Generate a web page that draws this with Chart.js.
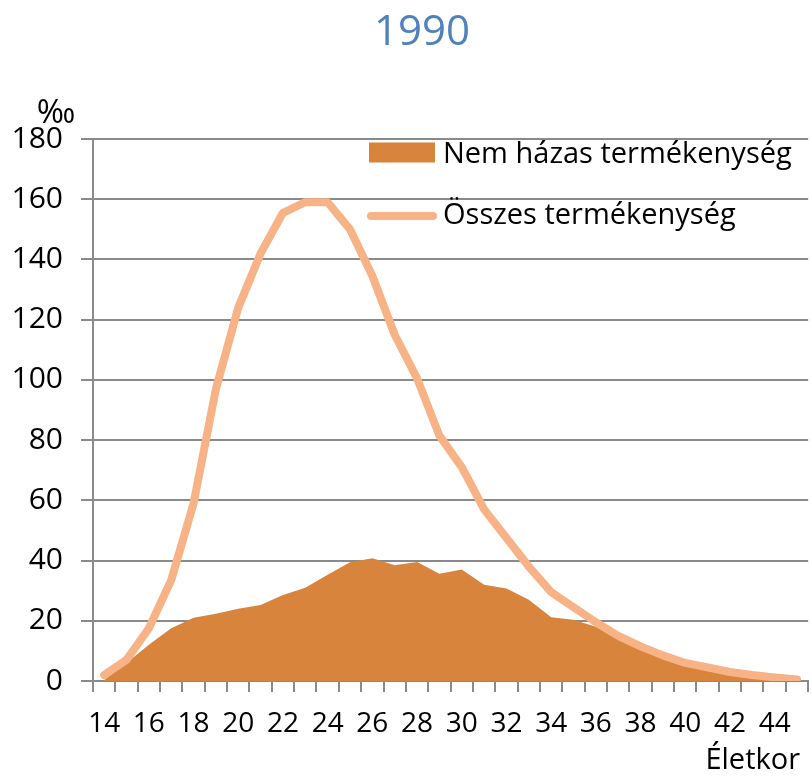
<!DOCTYPE html>
<html>
<head>
<meta charset="utf-8">
<script src="https://cdn.jsdelivr.net/npm/chart.js@4/dist/chart.umd.min.js"></script>
<style>
  body { margin: 0; background: #fff; }
  canvas { display: block; }
</style>
</head>
<body>
<canvas id="chart" width="812" height="777"></canvas>
<script>
// 1990 - age-specific fertility (per mille)
const ages = [14, 15, 16, 17, 18, 19, 20, 21, 22, 23, 24, 25, 26, 27, 28, 29,
              30, 31, 32, 33, 34, 35, 36, 37, 38, 39, 40, 41, 42, 43, 44, 45];
const nonMarital = [0.3, 6, 12, 17.5, 21, 22.3, 24, 25.2, 28.6, 31, 35.3, 39.4, 40.8, 38.4, 39.5, 35.6,
                    37, 32, 30.7, 27, 21.2, 20.3, 18, 14, 10.5, 7.5, 5, 3.3, 2, 1.2, 0.6, 0.3];
const total = [2, 7, 17.5, 33.5, 59, 97, 124, 142, 155.5, 159, 159, 150, 134.5, 115, 100.5, 81.5,
               71, 57, 47.5, 38, 29.5, 24.5, 19.5, 15, 11.5, 8.5, 6, 4.5, 3, 2, 1.2, 0.5];
const yTicks = [0, 20, 40, 60, 80, 100, 120, 140, 160, 180];

const areaColor = '#d9843c';
const lineColor = '#f7b286';
const gridColor = '#8a8a8a';
const font = "'Open Sans', sans-serif";

// title, legend, unit and axis caption drawn on top
const decorations = {
  id: 'decorations',
  afterDraw(chart) {
    const ctx = chart.ctx;
    ctx.save();
    ctx.textBaseline = 'alphabetic';
    ctx.fillStyle = '#4f81bd';
    ctx.font = '42px ' + font;
    ctx.textAlign = 'center';
    ctx.fillText('1990', 422, 45);

    ctx.font = '29px ' + font;
    ctx.textAlign = 'left';
    chart.data.datasets.forEach((ds, i) => {
      const y = 152.5 + i * 63.5;
      if (ds.fill) {
        ctx.fillStyle = ds.backgroundColor;
        ctx.fillRect(369, y - 10, 66, 20);
      } else {
        ctx.strokeStyle = ds.borderColor;
        ctx.lineWidth = 8;
        ctx.lineCap = 'round';
        ctx.beginPath();
        ctx.moveTo(371, y);
        ctx.lineTo(433, y);
        ctx.stroke();
      }
      ctx.fillStyle = '#000';
      ctx.fillText(ds.label, 443, y + (ds.fill ? 10 : 8));
    });
    ctx.font = '33px ' + font;
    ctx.textAlign = 'center';
    ctx.fillText('‰', 56, 123);
    ctx.font = '29px ' + font;
    ctx.textAlign = 'right';
    ctx.fillText('Életkor', 800, 769);
    ctx.restore();
  }
};

new Chart(document.getElementById('chart'), {
  type: 'line',
  data: {
    labels: ages,
    datasets: [{
      label: 'Nem házas termékenység',
      data: nonMarital,
      backgroundColor: areaColor,
      borderWidth: 0,
      pointRadius: 0,
      fill: 'origin',
      order: 1
    }, {
      label: 'Összes termékenység',
      data: total,
      borderColor: lineColor,
      borderWidth: 8,
      borderCapStyle: 'round',
      borderJoinStyle: 'round',
      pointRadius: 0,
      fill: false,
      order: 0
    }]
  },
  options: {
    responsive: false,
    animation: false,
    layout: { padding: { top: 139 } },
    plugins: {
      legend: { display: false },
      tooltip: { enabled: false },
      title: { display: false }
    },
    scales: {
      x: {
        offset: true,
        grid: { offset: true, drawOnChartArea: false, color: gridColor, lineWidth: 2, tickLength: 11 },
        border: { color: gridColor, width: 2 },
        ticks: {
          autoSkip: false,
          maxRotation: 0,
          color: '#000',
          padding: 15,
          font: { family: font, size: 28 },
          callback: (v, i) => (ages[i] % 2 === 0 ? String(ages[i]) : '')
        },
        afterFit: s => { s.height = 96; }
      },
      y: {
        min: yTicks[0],
        max: yTicks[yTicks.length - 1],
        afterBuildTicks: s => { s.ticks = yTicks.map(v => ({ value: v })); },
        grid: { color: gridColor, lineWidth: 2, tickLength: 12 },
        border: { color: gridColor, width: 2 },
        ticks: {
          color: '#000',
          padding: 18,
          font: { family: font, size: 30 }
        },
        afterFit: s => { s.width = 93; }
      }
    }
  },
  plugins: [decorations]
});
</script>
</body>
</html>
